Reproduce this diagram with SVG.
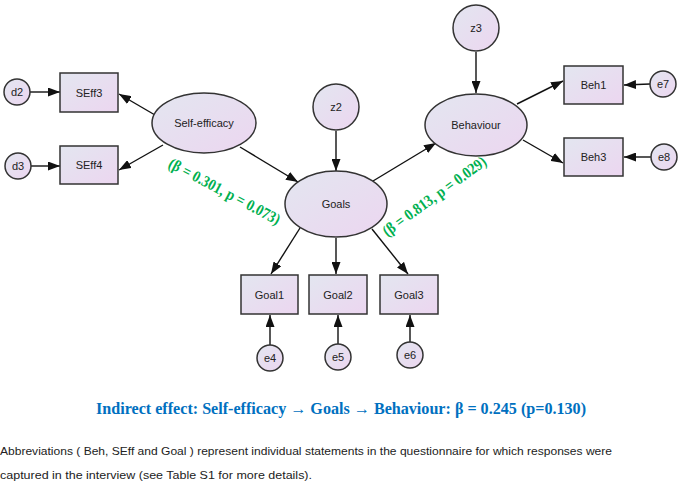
<svg xmlns="http://www.w3.org/2000/svg" width="685" height="486" viewBox="0 0 685 486">
<defs>
<linearGradient id="g" x1="0" y1="0" x2="1" y2="1">
<stop offset="0" stop-color="#e3e6f0"/>
<stop offset="1" stop-color="#ecd6f0"/>
</linearGradient>
<marker id="ah" markerUnits="userSpaceOnUse" markerWidth="12" markerHeight="9" refX="12" refY="4.5" orient="auto">
<path d="M0,0 L12,4.5 L0,9 z" fill="#111"/>
</marker>
</defs>
<style>
.n{fill:url(#g);stroke:#333;stroke-width:1.5}
.t{font-family:"Liberation Sans",Arial,sans-serif;font-size:11px;fill:#222;text-anchor:middle;dominant-baseline:central}
.c line{stroke:#111;stroke-width:1.4;marker-end:url(#ah)}
.g{font-family:"Liberation Serif","Times New Roman",serif;font-weight:bold;font-size:16px;fill:#00b050;text-anchor:middle}
</style>
<rect width="685" height="486" fill="#fff"/>
<g class="c" id="connectors">
<line x1="30" y1="92" x2="60" y2="92"/>
<line x1="31" y1="166" x2="60" y2="166"/>
<line x1="155" y1="115" x2="119" y2="94"/>
<line x1="163" y1="145" x2="119" y2="170"/>
<line x1="240" y1="147" x2="298" y2="182"/>
<line x1="336" y1="131" x2="336" y2="171"/>
<line x1="373" y1="181" x2="436" y2="143"/>
<line x1="476" y1="52" x2="476" y2="93"/>
<line x1="517" y1="104" x2="563" y2="81"/>
<line x1="523" y1="140" x2="563" y2="163"/>
<line x1="650" y1="84" x2="624" y2="85"/>
<line x1="651" y1="157" x2="624" y2="157"/>
<line x1="300" y1="228" x2="271" y2="274"/>
<line x1="336" y1="238" x2="336" y2="274"/>
<line x1="372" y1="229" x2="408" y2="274"/>
<line x1="270" y1="345" x2="270" y2="315"/>
<line x1="338" y1="344" x2="338" y2="315"/>
<line x1="410" y1="342" x2="410" y2="315"/>
</g>
<g id="d2"><circle class="n" cx="17" cy="92" r="13"/><text class="t" x="17" y="92">d2</text></g>
<g id="d3"><circle class="n" cx="18" cy="166" r="13"/><text class="t" x="18" y="166">d3</text></g>
<g id="SEff3"><rect class="n" x="60" y="73" width="58" height="39"/><text class="t" x="89" y="92.5">SEff3</text></g>
<g id="SEff4"><rect class="n" x="60" y="146" width="58" height="38"/><text class="t" x="89" y="165">SEff4</text></g>
<g id="SelfEfficacy"><ellipse class="n" cx="204" cy="123" rx="52" ry="30"/><text class="t" x="204" y="123">Self-efficacy</text></g>
<g id="z2"><circle class="n" cx="336" cy="107" r="23"/><text class="t" x="336" y="107">z2</text></g>
<g id="Goals"><ellipse class="n" cx="336" cy="204" rx="51" ry="33"/><text class="t" x="336" y="204">Goals</text></g>
<g id="z3"><circle class="n" cx="476" cy="28" r="23"/><text class="t" x="476" y="28">z3</text></g>
<g id="Behaviour"><ellipse class="n" cx="476" cy="125" rx="51" ry="31"/><text class="t" x="476" y="125">Behaviour</text></g>
<g id="Beh1"><rect class="n" x="564" y="66" width="59" height="38"/><text class="t" x="593.5" y="85">Beh1</text></g>
<g id="Beh3"><rect class="n" x="564" y="138" width="59" height="38"/><text class="t" x="593.5" y="157">Beh3</text></g>
<g id="e7"><circle class="n" cx="663" cy="84" r="13"/><text class="t" x="663" y="84">e7</text></g>
<g id="e8"><circle class="n" cx="664" cy="157" r="13"/><text class="t" x="664" y="157">e8</text></g>
<g id="Goal1"><rect class="n" x="241" y="275" width="57" height="39"/><text class="t" x="269.5" y="294.5">Goal1</text></g>
<g id="Goal2"><rect class="n" x="309" y="275" width="58" height="39"/><text class="t" x="338" y="294.5">Goal2</text></g>
<g id="Goal3"><rect class="n" x="380" y="275" width="58" height="39"/><text class="t" x="409" y="294.5">Goal3</text></g>
<g id="e4"><circle class="n" cx="270" cy="358" r="13"/><text class="t" x="270" y="358">e4</text></g>
<g id="e5"><circle class="n" cx="338" cy="357" r="13"/><text class="t" x="338" y="357">e5</text></g>
<g id="e6"><circle class="n" cx="410" cy="355" r="13"/><text class="t" x="410" y="355">e6</text></g>
<text class="g" transform="translate(222,196) rotate(28)" textLength="124" lengthAdjust="spacingAndGlyphs">(β = 0.301, p = 0.073)</text>
<text class="g" transform="translate(437.5,200.5) rotate(-36)" textLength="124" lengthAdjust="spacingAndGlyphs">(β = 0.813, p = 0.029)</text>
<text x="341" y="414" font-family="'Liberation Serif','Times New Roman',serif" font-weight="bold" font-size="16.5" fill="#0070c0" text-anchor="middle" textLength="490" lengthAdjust="spacingAndGlyphs">Indirect effect: Self-efficacy → Goals → Behaviour: β = 0.245 (p=0.130)</text>
<text x="0" y="455" font-family="'Liberation Sans',Arial,sans-serif" font-size="11.5" fill="#222" textLength="612" lengthAdjust="spacingAndGlyphs">Abbreviations ( Beh, SEff and Goal ) represent individual statements in the questionnaire for which responses were</text>
<text x="0" y="479" font-family="'Liberation Sans',Arial,sans-serif" font-size="11.5" fill="#222" textLength="312" lengthAdjust="spacingAndGlyphs">captured in the interview (see Table S1 for more details).</text>
</svg>
